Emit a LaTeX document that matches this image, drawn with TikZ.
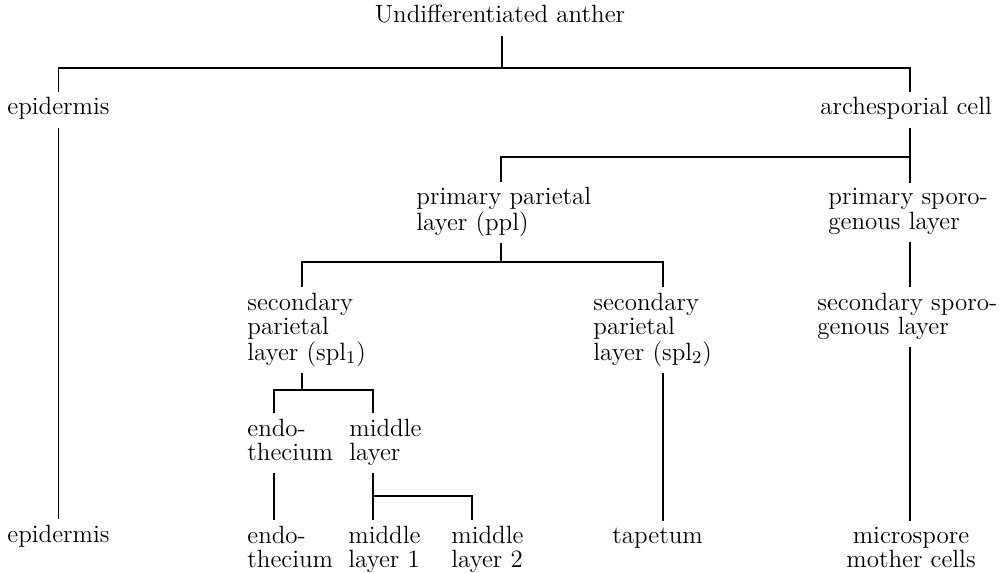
\documentclass[tikz,border=0pt]{standalone}
\newcommand\stk[1]{\begin{tabular}[t]{@{}l@{}}#1\end{tabular}}
\newcommand\stkc[1]{\begin{tabular}[t]{@{}c@{}}#1\end{tabular}}
\begin{document}
\begin{tikzpicture}[x=0.5pt,y=-0.5pt,
  font=\fontsize{12.5}{11.9}\selectfont,
  lbl/.style={inner xsep=0pt, inner ysep=2.5pt, anchor=base west},
  ctr/.style={inner xsep=0pt, inner ysep=2.5pt, anchor=base},
  link/.style={line width=0.55pt}]
\useasboundingbox (0,0) rectangle (1005,572);
% nodes
\node[ctr] (title) at (500,23) {\stk{Undifferentiated anther}};
\node[lbl] (epiA) at (7,115) {\stk{epidermis}};
\node[lbl] (archA) at (820,115) {\stk{archesporial cell}};
\node[lbl] (ppl) at (416,205) {\stk{primary parietal\\layer (ppl)}};
\node[lbl] (pspor) at (828,205) {\stk{primary sporo-\\genous layer}};
\node[lbl] (spl1) at (247,310) {\stk{secondary\\parietal\\layer (spl$_1$)}};
\node[lbl] (spl2) at (593,310) {\stk{secondary\\parietal\\layer (spl$_2$)}};
\node[lbl] (sspor) at (817,310) {\stk{secondary sporo-\\genous layer}};
\node[lbl] (endoA) at (247,436) {\stk{endo-\\thecium}};
\node[lbl] (midA) at (349,436) {\stk{middle\\layer}};
\node[lbl] (epiB) at (7,542) {\stk{epidermis}};
\node[lbl] (endoB) at (247,543) {\stk{endo-\\thecium}};
\node[lbl] (mid1) at (348,543) {\stk{middle\\layer 1}};
\node[lbl] (mid2) at (451,543) {\stk{middle\\layer 2}};
\node[lbl] (tap) at (612,543) {\stk{tapetum}};
\node[ctr] (micro) at (911,543) {\stkc{microspore\\mother cells}};
% junction coordinates
\coordinate (j1) at (502,68);
\coordinate (j2) at (910,157);
\coordinate (j3) at (501,262);
\coordinate (k2) at (663,262);
\coordinate (j4) at (302,390);
\coordinate (e1) at (274,390);
\coordinate (j5) at (373,496);
\coordinate (m2) at (472,496);
% connectors
\draw[link] (title.south -| j1) -- (j1);
\draw[link] (epiA.north) -- (epiA.north |- j1) -- (j2 |- j1) -- (archA.north -| j2);
\draw[link] (archA.south -| j2) -- (j2);
\draw[link] (ppl.north -| j3) -- (j3 |- j2) -- (j2) -- (pspor.north -| j2);
\draw[link] (ppl.south -| j3) -- (j3);
\draw[link] (spl1.north -| j4) -- (j4 |- j3) -- (k2) -- (spl2.north -| k2);
\draw[link] (spl2.south -| k2) -- (tap.north -| k2);
\draw[link] (pspor.south -| j2) -- (sspor.north -| j2);
\draw[link] (sspor.south -| j2) -- (micro.north -| j2);
\draw[link] (epiA.south) -- (epiB.north);
\draw[link] (spl1.south -| j4) -- (j4);
\draw[link] (endoA.north -| e1) -- (e1) -- (j5 |- e1) -- (midA.north -| j5);
\draw[link] (endoA.south -| e1) -- (endoB.north -| e1);
\draw[link] (midA.south -| j5) -- (j5);
\draw[link] (mid1.north -| j5) -- (j5) -- (m2) -- (mid2.north -| m2);
\end{tikzpicture}
\end{document}
